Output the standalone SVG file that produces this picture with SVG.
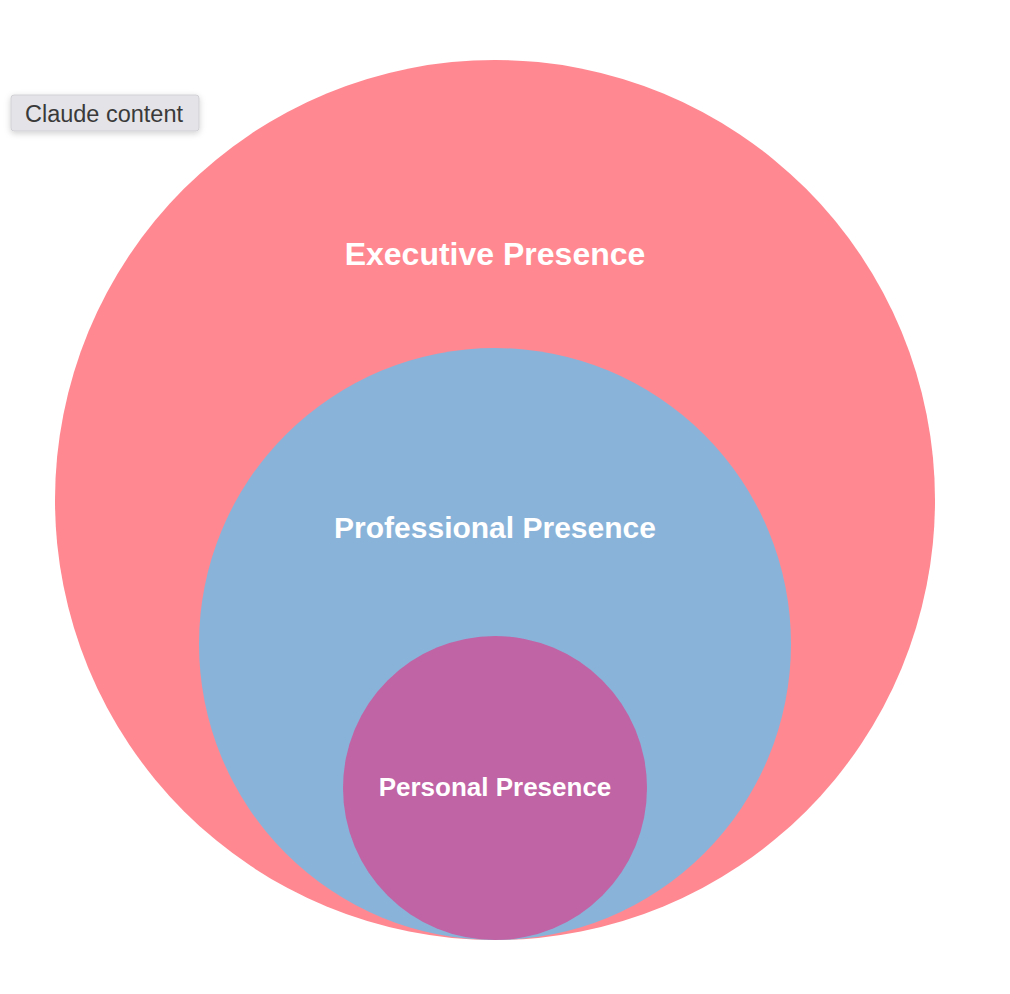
<svg xmlns="http://www.w3.org/2000/svg" width="1010" height="994" viewBox="0 0 1010 994">
<defs>
<style>
.lbl{font-family:"Liberation Sans",Arial,sans-serif;font-weight:bold;fill:#ffffff;text-anchor:middle}
</style>
<filter id="sh" x="-20%" y="-40%" width="140%" height="200%">
<feDropShadow dx="0" dy="2" stdDeviation="3" flood-color="#000" flood-opacity="0.18"/>
</filter>
</defs>
<rect width="1010" height="994" fill="#ffffff"/>
<g id="executive">
<circle cx="495" cy="500" r="440" fill="#FF8891"/>
<text class="lbl" x="495" y="265" font-size="32">Executive Presence</text>
</g>
<g id="professional">
<circle cx="495" cy="644" r="296" fill="#8AB3D9"/>
<text class="lbl" x="495" y="538" font-size="30">Professional Presence</text>
</g>
<g id="personal">
<circle cx="495" cy="788" r="152" fill="#C064A5"/>
<text class="lbl" x="495" y="796" font-size="26">Personal Presence</text>
</g>
<g id="connectors"></g>
<g id="button">
<rect x="11" y="95" width="188" height="36" rx="3" fill="#E4E4E8" stroke="#D0D0D5" stroke-width="1" filter="url(#sh)"/>
<text x="104" y="122" font-family="'Liberation Sans',Arial,sans-serif" font-size="23.5" fill="#3a3a3a" text-anchor="middle">Claude content</text>
</g>
</svg>
